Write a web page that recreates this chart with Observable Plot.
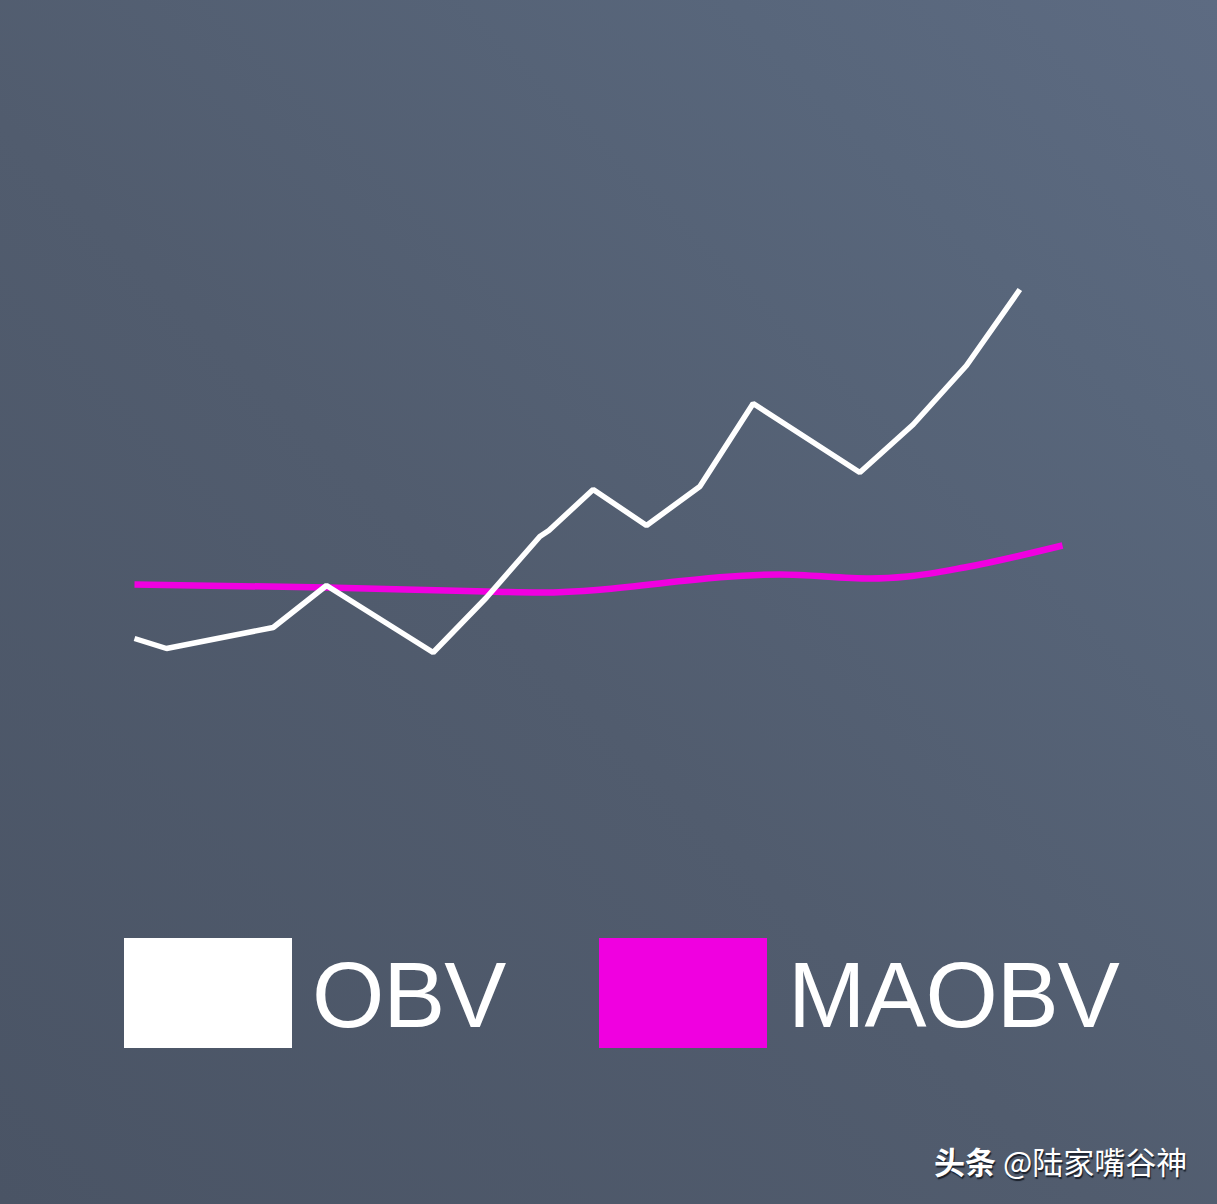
<!DOCTYPE html>
<html>
<head>
<meta charset="utf-8">
<script src="https://cdn.jsdelivr.net/npm/d3@7"></script>
<script src="https://cdn.jsdelivr.net/npm/@observablehq/plot@0.6"></script>
<style>
  html, body { margin: 0; padding: 0; }
  body {
    width: 1217px; height: 1204px; position: relative; overflow: hidden;
    background: linear-gradient(to top right, #4a5465 0%, #515c6e 45%, #58667b 80%, #5d6b82 100%);
    font-family: "Liberation Sans", Arial, sans-serif;
  }
  #chart { position: absolute; left: 0; top: 0; }
  .sw { position: absolute; top: 938px; width: 168px; height: 110px; }
  .lab { position: absolute; top: 940px; font-size: 93px; line-height: 110px; color: #fff; letter-spacing: -1px; }
  #wm { position: absolute; left: 934px; top: 1138px; font-size: 31px; color: #fff;
        font-family: "Noto Sans CJK SC", sans-serif; text-shadow: 1px 2px 1px rgba(20,25,35,0.9); white-space: nowrap; }
  #wm b { font-weight: 700; }
</style>
</head>
<body>
<div id="chart"></div>
<div class="sw" style="left:124px;background:#ffffff;"></div>
<div class="lab" style="left:312px;">OBV</div>
<div class="sw" style="left:599px;background:#f000e0;"></div>
<div class="lab" style="left:788px;">MAOBV</div>
<div id="wm"><b>头条</b> @陆家嘴谷神</div>
<script>
// x = period index, y = indicator value (arbitrary units)
const obvX = [-0.6, 0, 2, 3, 5, 6, 7, 7.17, 8, 9, 10, 11, 13, 14, 15, 16];
const obvY = [6.2, 5.2, 7.3, 11.5, 4.8, 10.3, 16.4, 17.0, 21.1, 17.5, 21.4, 29.7, 22.8, 27.6, 33.5, 41.1];
const maX = [-0.6, 3, 6, 7, 11.5, 13.2, 13.9, 14.96, 16.8];
const maY = [11.6, 11.3, 10.9, 10.8, 12.6, 12.2, 12.4, 13.3, 15.5];

const obv = obvX.map((x, i) => ({x, y: obvY[i]}));
const ma = maX.map((x, i) => ({x, y: maY[i]}));

const chart = Plot.plot({
  width: 1217,
  height: 900,
  marginLeft: 134,
  marginRight: 155,
  marginTop: 200,
  marginBottom: 200,
  style: {background: "transparent", overflow: "visible"},
  x: {domain: [-0.6, 16.8], axis: null},
  y: {domain: [0, 50], axis: null},
  marks: [
    Plot.line(ma, {x: "x", y: "y", stroke: "#f000e0", strokeWidth: 6.5, curve: "monotone-x", strokeLinecap: "butt"}),
    Plot.line(obv, {x: "x", y: "y", stroke: "#ffffff", strokeWidth: 5.5, strokeLinejoin: "miter", strokeLinecap: "butt"})
  ]
});
document.getElementById("chart").appendChild(chart);
</script>
</body>
</html>
